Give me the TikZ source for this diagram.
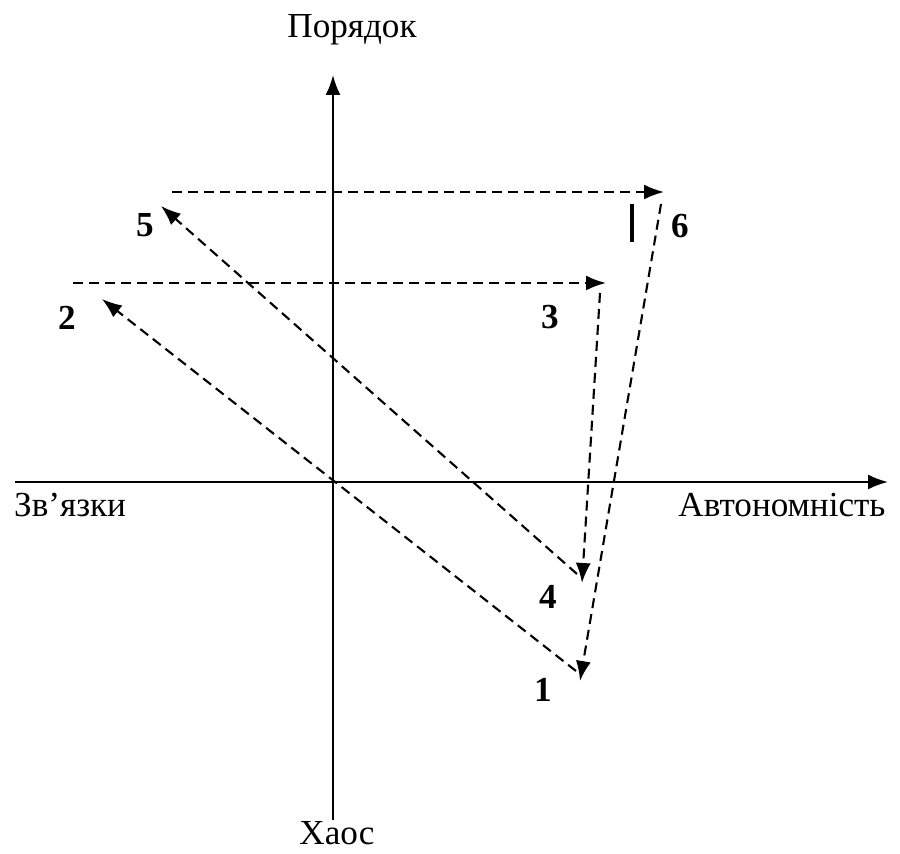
\documentclass[tikz,border=0pt]{standalone}
\usepackage{fontspec}
\setmainfont{Liberation Serif}
\usetikzlibrary{arrows.meta,positioning,calc}
\tikzset{
  axis/.style={line width=1.2pt, -{Latex[length=4mm,width=3mm]}},
  path/.style={line width=1.2pt, dash pattern=on 2mm off 1.2mm, -{Latex[length=4mm,width=3mm]}},
  lbl/.style={font=\fontsize{20}{24}\selectfont},
  num/.style={font=\fontsize{20}{24}\selectfont\bfseries}
}
\begin{document}
\begin{tikzpicture}[x=0.02cm, y=-0.02cm]
  \useasboundingbox (0,0) rectangle (900,854);
  % axes
  \coordinate (yb) at (333,820);
  \coordinate (yt) at (333,75);
  \coordinate (xl) at (15,482);
  \coordinate (xr) at (888,482);
  \draw[axis] (yb) -- (yt);
  \draw[axis] (xl) -- (xr);
  \node[lbl] (order) at (352,30) {Порядок};
  \node[lbl, inner sep=0pt, anchor=base] (chaos) at (337,845) {Хаос};
  \node[lbl, anchor=west] (links) at (8,505) {Зв'язки};
  \node[lbl] (auto) at (782,505) {Автономність};

  % points of the cycle
  \coordinate (p1) at (580,681);
  \coordinate (p2) at (102,299);
  \coordinate (p3) at (606,283);
  \coordinate (p4) at (582,583);
  \coordinate (p5) at (161,206);
  \coordinate (p6) at (664,192);
  \coordinate (s1) at (576,671);
  \coordinate (s2) at (73,283);
  \coordinate (s3) at (600,293);
  \coordinate (s4) at (577,574);
  \coordinate (s5) at (172,192);
  \coordinate (s6) at (661,204);

  % the cycle 1 -> 2 -> ... -> 6 -> 1
  \draw[path] (s1) -- (p2);
  \draw[path] (s2) -- (p3);
  \draw[path] (s3) -- (p4);
  \draw[path] (s4) -- (p5);
  \draw[path] (s5) -- (p6);
  \draw[path] (s6) -- (p1);

  % stop mark before 6
  \coordinate (m1) at (632,204);
  \coordinate (m2) at (632,242);
  \draw[line width=2.4pt] (m1) -- (m2);

  % numbers
  \node[num] (n1) at (543,690) {1};
  \node[num] (n2) at (67,318) {2};
  \node[num] (n3) at (550,317) {3};
  \node[num] (n4) at (548,597) {4};
  \node[num] (n5) at (145,225) {5};
  \node[num] (n6) at (680,226) {6};
\end{tikzpicture}
\end{document}
